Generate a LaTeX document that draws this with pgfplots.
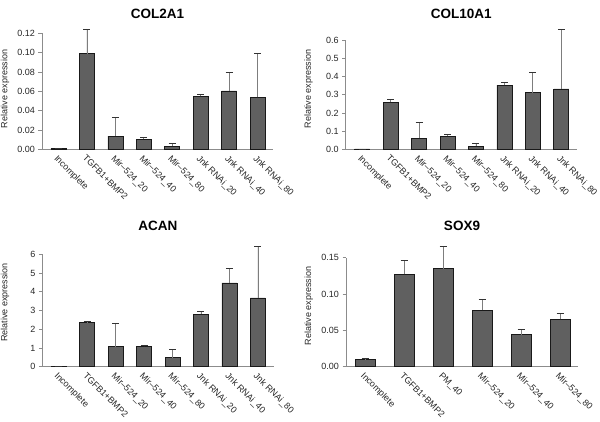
\documentclass[border=0pt]{standalone}
\usepackage{pgfplots}
\pgfplotsset{compat=1.18}
\usepackage{fontspec}
\setmainfont{Liberation Sans}
\definecolor{barfill}{RGB}{96,96,96}
\definecolor{axgray}{RGB}{140,140,140}
\definecolor{errgray}{RGB}{125,125,125}
\pgfplotsset{
  mybar/.style={
    scale only axis, clip=false,
    axis x line*=bottom, axis y line*=left,
    axis line style={axgray, line width=0.8pt},
    ymin=0,
    xtick={0,...,7},
    x tick style={draw=none},
    y tick style={axgray, line width=0.8pt},
    tick align=outside, major tick length=3.5pt,
    ticklabel style={font=\fontsize{9}{10}\selectfont, text=black!85},
    xticklabel style={rotate=-45, anchor=north west, inner sep=1pt},
    ylabel={Relative expression},
    ylabel style={font=\fontsize{9}{10}\selectfont, anchor=center, text=black!85},
  },
  mybars/.style={ybar, bar width=#1, bar shift=0pt, fill=barfill, draw=black!90, line width=0.6pt,
    error bars/.cd, y dir=plus, y explicit, error mark=-,
    error bar style={draw=errgray, line width=0.7pt},
    error mark options={rotate=90, draw=black!80, mark size=3.5pt, line width=0.7pt}},
}
\begin{document}
\begin{tikzpicture}
\path[use as bounding box] (0,0) rectangle (600pt,422pt);

% COL2A1
\begin{axis}[mybar, at={(42pt,272.7pt)}, anchor=south west,
  width=231.2pt, height=116pt, xmin=-0.58, xmax=7.55, ymax=0.12,
  ytick={0,0.02,0.04,0.06,0.08,0.10,0.12},
  yticklabels={0.00,0.02,0.04,0.06,0.08,0.10,0.12},
  xticklabels={Incomplete,TGFB1+BMP2,Mir\textendash524\_20,Mir\textendash524\_40,Mir\textendash524\_80,Jnk RNAi\_20,Jnk RNAi\_40,Jnk RNAi\_80},
  ylabel style={at={(axis description cs:-0.160,0.52)}}]
\addplot[mybars=15pt] coordinates {
 (0,0.0010) +- (0,0.0003)
 (1,0.0990) +- (0,0.0255)
 (2,0.0135) +- (0,0.0195)
 (3,0.0105) +- (0,0.0017)
 (4,0.0033) +- (0,0.0027)
 (5,0.0548) +- (0,0.0017)
 (6,0.0605) +- (0,0.0187)
 (7,0.0537) +- (0,0.0457)
};
\end{axis}

% COL10A1
\begin{axis}[mybar, at={(345.7pt,272.7pt)}, anchor=south west,
  width=231.2pt, height=109pt, xmin=-0.58, xmax=7.55, ymax=0.6,
  ytick={0,0.1,0.2,0.3,0.4,0.5,0.6},
  yticklabels={0.0,0.1,0.2,0.3,0.4,0.5,0.6},
  xticklabels={Incomplete,TGFB1+BMP2,Mir\textendash524\_20,Mir\textendash524\_40,Mir\textendash524\_80,Jnk RNAi\_20,Jnk RNAi\_40,Jnk RNAi\_80},
  ylabel style={at={(axis description cs:-0.161,0.553)}}]
\addplot[mybars=15pt] coordinates {
 (0,0.002) +- (0,0.0)
 (1,0.260) +- (0,0.013)
 (2,0.062) +- (0,0.086)
 (3,0.073) +- (0,0.008)
 (4,0.018) +- (0,0.013)
 (5,0.353) +- (0,0.015)
 (6,0.311) +- (0,0.111)
 (7,0.333) +- (0,0.327)
};
\end{axis}

% ACAN
\begin{axis}[mybar, at={(42.3pt,55.3pt)}, anchor=south west,
  width=231.2pt, height=112.3pt, xmin=-0.58, xmax=7.55, ymax=6,
  ytick={0,1,2,3,4,5,6},
  yticklabels={0,1,2,3,4,5,6},
  xticklabels={Incomplete,TGFB1+BMP2,Mir\textendash524\_20,Mir\textendash524\_40,Mir\textendash524\_80,Jnk RNAi\_20,Jnk RNAi\_40,Jnk RNAi\_80},
  ylabel style={at={(axis description cs:-0.161,0.57)}}]
\addplot[mybars=15pt] coordinates {
 (0,0.02) +- (0,0.0)
 (1,2.36) +- (0,0.06)
 (2,1.07) +- (0,1.26)
 (3,1.08) +- (0,0.08)
 (4,0.49) +- (0,0.45)
 (5,2.79) +- (0,0.16)
 (6,4.48) +- (0,0.78)
 (7,3.68) +- (0,2.75)
};
\end{axis}

% SOX9
\begin{axis}[mybar, at={(346pt,55.3pt)}, anchor=south west,
  width=232pt, height=109pt, xmin=-0.49, xmax=5.46, ymax=0.15,
  xtick={0,...,5},
  ytick={0,0.05,0.10,0.15},
  yticklabels={0.00,0.05,0.10,0.15},
  xticklabels={Incomplete,TGFB1+BMP2,PM\_40,Mir\textendash524\_20,Mir\textendash524\_40,Mir\textendash524\_80},
  ylabel style={at={(axis description cs:-0.16,0.557)}}]
\addplot[mybars=20pt] coordinates {
 (0,0.010) +- (0,0.001)
 (1,0.127) +- (0,0.019)
 (2,0.135) +- (0,0.031)
 (3,0.078) +- (0,0.014)
 (4,0.044) +- (0,0.007)
 (5,0.065) +- (0,0.008)
};
\end{axis}

\node[anchor=base, font=\bfseries\fontsize{13.5}{15}\selectfont] at (157.6pt,403pt) {COL2A1};
\node[anchor=base, font=\bfseries\fontsize{13.5}{15}\selectfont] at (461.3pt,403pt) {COL10A1};
\node[anchor=base, font=\bfseries\fontsize{13.5}{15}\selectfont] at (157.9pt,191pt) {ACAN};
\node[anchor=base, font=\bfseries\fontsize{13.5}{15}\selectfont] at (462pt,191pt) {SOX9};
\end{tikzpicture}
\end{document}
